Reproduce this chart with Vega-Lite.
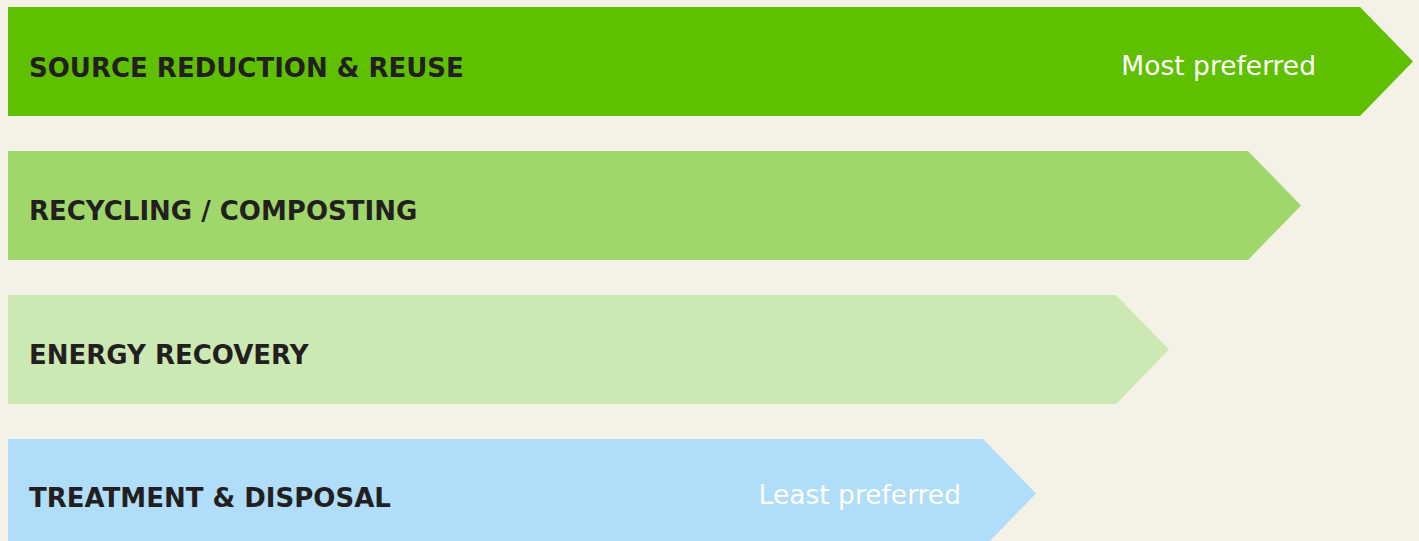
{
  "$schema": "https://vega.github.io/schema/vega-lite/v6.json",
  "width": 1419,
  "height": 541,
  "autosize": {"type": "fit", "contains": "padding"},
  "padding": 0,
  "background": "#f4f1e7",
  "config": {"view": {"stroke": null}},
  "datasets": {
    "arrows": [
      {"name": "SOURCE REDUCTION & REUSE", "x": 8, "top": 7, "bottom": 116},
      {"name": "SOURCE REDUCTION & REUSE", "x": 1360, "top": 7, "bottom": 116},
      {"name": "SOURCE REDUCTION & REUSE", "x": 1413, "top": 61.5, "bottom": 61.5},
      {"name": "RECYCLING / COMPOSTING", "x": 8, "top": 151, "bottom": 260},
      {"name": "RECYCLING / COMPOSTING", "x": 1248, "top": 151, "bottom": 260},
      {"name": "RECYCLING / COMPOSTING", "x": 1301, "top": 205.5, "bottom": 205.5},
      {"name": "ENERGY RECOVERY", "x": 8, "top": 295, "bottom": 404},
      {"name": "ENERGY RECOVERY", "x": 1116, "top": 295, "bottom": 404},
      {"name": "ENERGY RECOVERY", "x": 1169, "top": 349.5, "bottom": 349.5},
      {"name": "TREATMENT & DISPOSAL", "x": 8, "top": 439, "bottom": 548},
      {"name": "TREATMENT & DISPOSAL", "x": 983, "top": 439, "bottom": 548},
      {"name": "TREATMENT & DISPOSAL", "x": 1036, "top": 493.5, "bottom": 493.5}
    ],
    "labels": [
      {"text": "SOURCE REDUCTION & REUSE", "x": 29, "y": 77},
      {"text": "RECYCLING / COMPOSTING", "x": 29, "y": 220},
      {"text": "ENERGY RECOVERY", "x": 29, "y": 364},
      {"text": "TREATMENT & DISPOSAL", "x": 29, "y": 507}
    ],
    "notes": [
      {"text": "Most preferred", "x": 1316, "y": 75},
      {"text": "Least preferred", "x": 961, "y": 504}
    ]
  },
  "layer": [
    {
      "data": {"name": "arrows"},
      "mark": {"type": "area", "clip": true, "interpolate": "linear", "opacity": 1},
      "encoding": {
        "x": {"field": "x", "type": "quantitative", "scale": {"domain": [0, 1419], "nice": false, "zero": false}, "axis": null},
        "y": {"field": "top", "type": "quantitative", "scale": {"domain": [0, 541], "nice": false, "reverse": true}, "axis": null},
        "y2": {"field": "bottom"},
        "color": {
          "field": "name",
          "type": "nominal",
          "scale": {
            "domain": ["SOURCE REDUCTION & REUSE", "RECYCLING / COMPOSTING", "ENERGY RECOVERY", "TREATMENT & DISPOSAL"],
            "range": ["#5fc000", "#a0d76a", "#cde9b3", "#b0ddf9"]
          },
          "legend": null
        }
      }
    },
    {
      "data": {"name": "labels"},
      "mark": {"type": "text", "font": "DejaVu Sans", "fontWeight": "bold", "fontSize": 26, "align": "left", "baseline": "alphabetic", "color": "#231f20"},
      "encoding": {
        "x": {"field": "x", "type": "quantitative"},
        "y": {"field": "y", "type": "quantitative"},
        "text": {"field": "text"}
      }
    },
    {
      "data": {"name": "notes"},
      "mark": {"type": "text", "font": "DejaVu Sans", "fontSize": 26.5, "align": "right", "baseline": "alphabetic", "color": "#ffffff"},
      "encoding": {
        "x": {"field": "x", "type": "quantitative"},
        "y": {"field": "y", "type": "quantitative"},
        "text": {"field": "text"}
      }
    }
  ]
}
